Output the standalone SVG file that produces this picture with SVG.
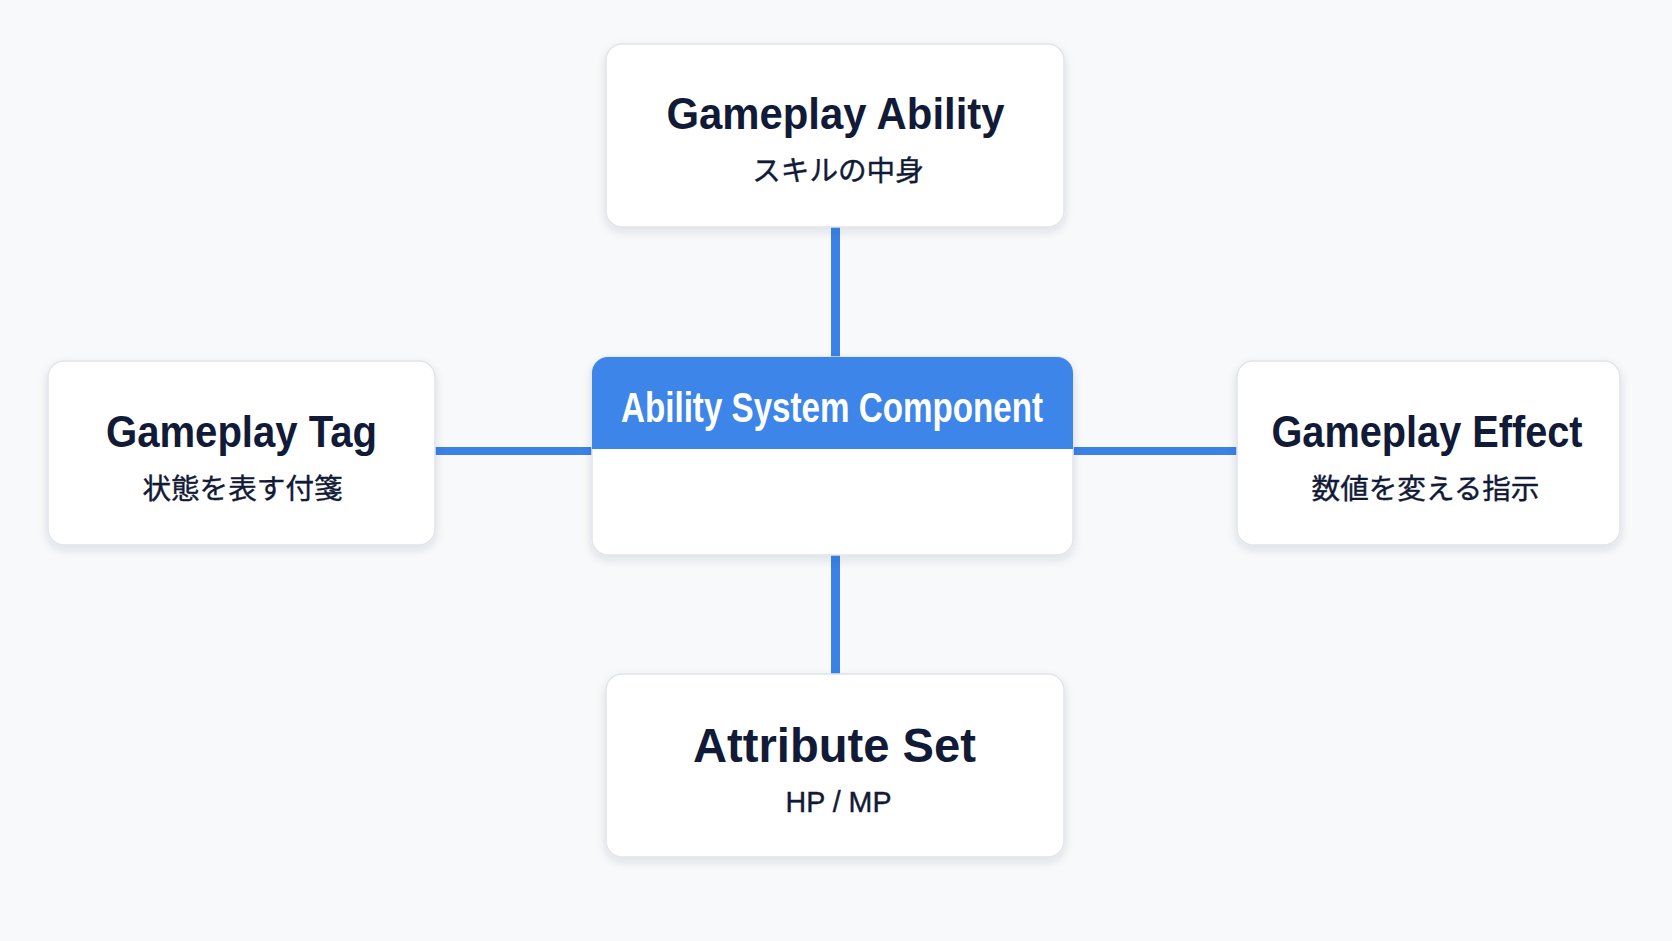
<svg xmlns="http://www.w3.org/2000/svg" width="1672" height="941" viewBox="0 0 1672 941">
  <defs>
    <filter id="shadow" x="-10%" y="-15%" width="120%" height="135%">
      <feDropShadow dx="0" dy="4" stdDeviation="5" flood-color="#1a2540" flood-opacity="0.12"/>
    </filter>
    <clipPath id="centerClip">
      <rect x="592" y="357" width="481" height="198" rx="16" ry="16"/>
    </clipPath>
  </defs>
  <style>
    .box { fill: #ffffff; stroke: #e1e4e9; stroke-width: 1.5; filter: url(#shadow); }
    .title { font-family: "Liberation Sans", Arial, sans-serif; font-weight: bold; fill: #111a36; text-anchor: middle; }
    .sub { font-family: "Liberation Sans", "Noto Sans CJK JP", sans-serif; font-size: 28.6px; fill: #111a36; stroke: #111a36; stroke-width: 0.4; text-anchor: middle; }
    .conn { stroke: #3b82e6; fill: none; }
    .head { font-family: "Liberation Sans", Arial, sans-serif; font-weight: bold; font-size: 42px; fill: #ffffff; text-anchor: middle; }
  </style>
  <rect x="0" y="0" width="1672" height="941" fill="#f8f9fb"/>

  <g id="connectors">
    <line class="conn" x1="835.5" y1="225" x2="835.5" y2="358" stroke-width="9"/>
    <line class="conn" x1="835.5" y1="554" x2="835.5" y2="675" stroke-width="9"/>
    <line class="conn" x1="434" y1="451" x2="593" y2="451" stroke-width="8"/>
    <line class="conn" x1="1072" y1="451" x2="1238" y2="451" stroke-width="8"/>
  </g>

  <g id="gameplay-ability">
    <rect class="box" x="606" y="44" width="458" height="183" rx="16" ry="16"/>
    <text class="title" x="835.5" y="129" font-size="44" textLength="338" lengthAdjust="spacingAndGlyphs">Gameplay Ability</text>
    <text class="sub" x="838" y="181" font-size="29.5">スキルの中身</text>
  </g>

  <g id="gameplay-tag">
    <rect class="box" x="48" y="361" width="387" height="184" rx="16" ry="16"/>
    <text class="title" x="241.5" y="447" font-size="44" textLength="271" lengthAdjust="spacingAndGlyphs">Gameplay Tag</text>
    <text class="sub" x="242.5" y="499">状態を表す付箋</text>
  </g>

  <g id="ability-system-component">
    <rect class="box" x="592" y="357" width="481" height="198" rx="16" ry="16"/>
    <rect x="592" y="357" width="481" height="92" fill="#3d85e8" clip-path="url(#centerClip)"/>
    <text class="head" x="832" y="422" textLength="422" lengthAdjust="spacingAndGlyphs">Ability System Component</text>
  </g>

  <g id="gameplay-effect">
    <rect class="box" x="1237" y="361" width="383" height="184" rx="16" ry="16"/>
    <text class="title" x="1427" y="447" font-size="44" textLength="311" lengthAdjust="spacingAndGlyphs">Gameplay Effect</text>
    <text class="sub" x="1425.5" y="499">数値を変える指示</text>
  </g>

  <g id="attribute-set">
    <rect class="box" x="606" y="674" width="458" height="183" rx="16" ry="16"/>
    <text class="title" x="834.5" y="762" font-size="48" textLength="283" lengthAdjust="spacingAndGlyphs">Attribute Set</text>
    <text class="sub" x="838.5" y="812" font-size="33" stroke-width="0.6">HP / MP</text>
  </g>
</svg>
